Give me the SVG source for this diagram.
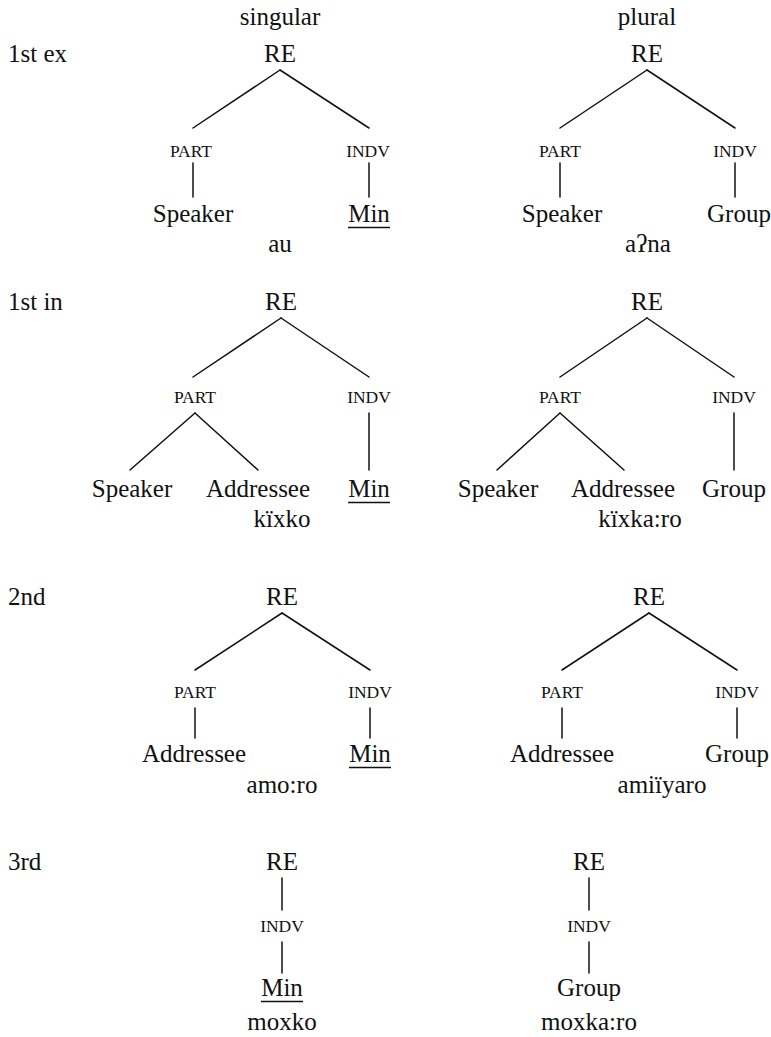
<svg xmlns="http://www.w3.org/2000/svg" width="771" height="1037" viewBox="0 0 771 1037" font-family="'Liberation Serif', 'Times New Roman', serif">
<style>
text{font-family:"Liberation Serif","Times New Roman",serif;fill:#111}
.m{font-size:25px;text-anchor:middle}
.s{font-size:17.5px;text-anchor:middle}
.l{font-size:25px;text-anchor:start}
.c line{stroke:#111;stroke-width:1.5;stroke-linecap:round}
.u{stroke:#111;stroke-width:1.4}
</style>
<rect width="771" height="1037" fill="#fff"/>
<g id="headers">
<text class="m" x="280" y="25">singular</text>
<text class="m" x="647" y="25">plural</text>
<text class="l" x="8" y="62">1st ex</text>
<text class="l" x="8" y="310">1st in</text>
<text class="l" x="8" y="605">2nd</text>
<text class="l" x="8" y="870">3rd</text>
</g>
<g class="c" id="connectors">
<line x1="280" y1="70" x2="193" y2="128"/>
<line x1="280" y1="70" x2="369" y2="128"/>
<line x1="193" y1="163" x2="193" y2="197"/>
<line x1="369" y1="163" x2="369" y2="197"/>
<line x1="647" y1="70" x2="560" y2="128"/>
<line x1="647" y1="70" x2="735" y2="128"/>
<line x1="560" y1="163" x2="560" y2="197"/>
<line x1="735" y1="163" x2="735" y2="197"/>
<line x1="281" y1="318" x2="193" y2="377"/>
<line x1="281" y1="318" x2="369" y2="377"/>
<line x1="195" y1="413" x2="130" y2="470"/>
<line x1="195" y1="413" x2="258" y2="470"/>
<line x1="369" y1="413" x2="369" y2="470"/>
<line x1="647" y1="318" x2="560" y2="377"/>
<line x1="647" y1="318" x2="734" y2="377"/>
<line x1="560" y1="413" x2="497" y2="470"/>
<line x1="560" y1="413" x2="624" y2="470"/>
<line x1="734" y1="413" x2="734" y2="470"/>
<line x1="282" y1="613" x2="195" y2="670"/>
<line x1="282" y1="613" x2="370" y2="670"/>
<line x1="195" y1="708" x2="195" y2="738"/>
<line x1="370" y1="708" x2="370" y2="738"/>
<line x1="649" y1="613" x2="562" y2="670"/>
<line x1="649" y1="613" x2="737" y2="670"/>
<line x1="562" y1="708" x2="562" y2="738"/>
<line x1="737" y1="708" x2="737" y2="738"/>
<line x1="282" y1="878" x2="282" y2="910"/>
<line x1="282" y1="942" x2="282" y2="973"/>
<line x1="589" y1="878" x2="589" y2="910"/>
<line x1="589" y1="942" x2="589" y2="973"/>
</g>
<g id="t1s">
<text class="m" x="280" y="62">RE</text>
<text class="s" x="191" y="157">PART</text>
<text class="s" x="368" y="157">INDV</text>
<text class="m" x="193" y="222">Speaker</text>
<text class="m" x="369" y="222">Min</text>
<line class="u" x1="348" y1="227.5" x2="390" y2="227.5"/>
<text class="m" x="280" y="252">au</text>
</g>
<g id="t1p">
<text class="m" x="647" y="62">RE</text>
<text class="s" x="560" y="157">PART</text>
<text class="s" x="735" y="157">INDV</text>
<text class="m" x="562" y="222">Speaker</text>
<text class="m" x="739" y="222">Group</text>
<text class="m" x="648" y="252">aʔna</text>
</g>
<g id="t2s">
<text class="m" x="281" y="310">RE</text>
<text class="s" x="195" y="403">PART</text>
<text class="s" x="369" y="403">INDV</text>
<text class="m" x="132" y="497">Speaker</text>
<text class="m" x="258" y="497">Addressee</text>
<text class="m" x="369" y="497">Min</text>
<line class="u" x1="348" y1="502.5" x2="390" y2="502.5"/>
<text class="m" x="282" y="527">kïxko</text>
</g>
<g id="t2p">
<text class="m" x="647" y="310">RE</text>
<text class="s" x="560" y="403">PART</text>
<text class="s" x="734" y="403">INDV</text>
<text class="m" x="498" y="497">Speaker</text>
<text class="m" x="623" y="497">Addressee</text>
<text class="m" x="734" y="497">Group</text>
<text class="m" x="640" y="527">kïxka:ro</text>
</g>
<g id="t3s">
<text class="m" x="282" y="605">RE</text>
<text class="s" x="195" y="698">PART</text>
<text class="s" x="370" y="698">INDV</text>
<text class="m" x="194" y="762">Addressee</text>
<text class="m" x="370" y="762">Min</text>
<line class="u" x1="349" y1="767.5" x2="391" y2="767.5"/>
<text class="m" x="282" y="793">amo:ro</text>
</g>
<g id="t3p">
<text class="m" x="649" y="605">RE</text>
<text class="s" x="562" y="698">PART</text>
<text class="s" x="737" y="698">INDV</text>
<text class="m" x="562" y="762">Addressee</text>
<text class="m" x="737" y="762">Group</text>
<text class="m" x="662" y="793">amiïyaro</text>
</g>
<g id="t4s">
<text class="m" x="282" y="870">RE</text>
<text class="s" x="282" y="932">INDV</text>
<text class="m" x="282" y="996">Min</text>
<line class="u" x1="261" y1="1001.5" x2="303" y2="1001.5"/>
<text class="m" x="282" y="1030">moxko</text>
</g>
<g id="t4p">
<text class="m" x="589" y="870">RE</text>
<text class="s" x="589" y="932">INDV</text>
<text class="m" x="589" y="996">Group</text>
<text class="m" x="589" y="1030">moxka:ro</text>
</g>
</svg>
